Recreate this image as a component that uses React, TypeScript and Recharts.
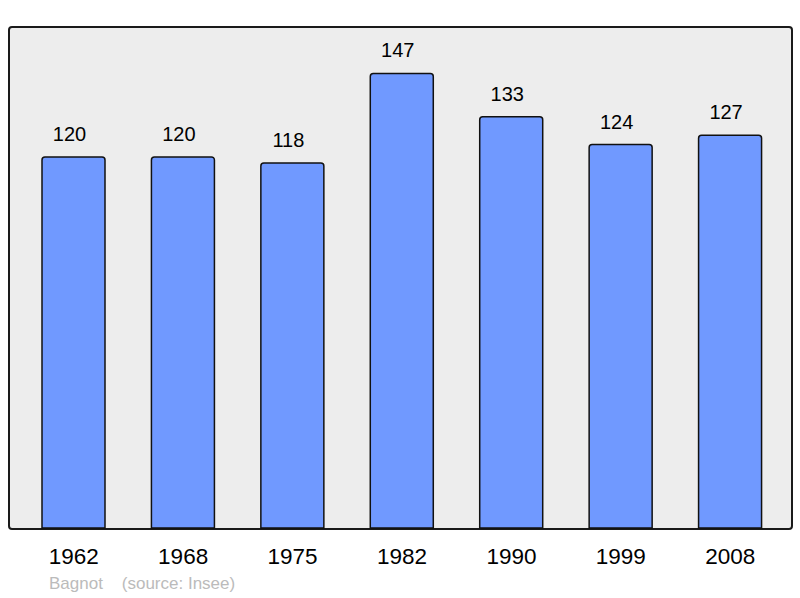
import { BarChart, Bar, XAxis, YAxis, LabelList } from "recharts";

const years = ["1962", "1968", "1975", "1982", "1990", "1999", "2008"];
const population = [120, 120, 118, 147, 133, 124, 127];

const rows = years.map((y, i) => ({ year: y, pop: population[i] }));

const font = '"Liberation Sans", Arial, sans-serif';

export default function App() {
  return (
    <div style={{ position: "absolute", left: 0, top: 0, width: 800, height: 598, background: "#fff", fontFamily: font }}>
      {/* plot frame behind the chart */}
      <div style={{
        position: "absolute", left: 8, top: 26, width: 781, height: 500,
        background: "#ededed", border: "2px solid #1a1a1a", borderRadius: 4,
      }} />
      <div style={{ position: "absolute", left: 0, top: 0 }}>
        <BarChart
          width={800}
          height={598}
          data={rows}
          margin={{ top: 27, right: 9, bottom: 40, left: 9 }}
          barSize={63}
        >
          <XAxis
            dataKey="year"
            height={30}
            axisLine={false}
            tickLine={false}
            tickMargin={14}
            padding={{ left: 10, right: 6 }}
            tick={{ fill: "#000", fontSize: 22.5, fontFamily: font }}
          />
          <YAxis hide domain={[0, 162]} />
          <Bar dataKey="pop" fill="#7099ff" stroke="#111" strokeWidth={1.5} radius={[3, 3, 0, 0]} isAnimationActive={false}>
            <LabelList dataKey="pop" position="top" offset={16} dx={-4} fill="#000" fontSize={20} fontFamily={font} />
          </Bar>
        </BarChart>
      </div>
      <div style={{ position: "absolute", left: 49, top: 574, fontSize: 17, color: "#bbb", whiteSpace: "pre" }}>
        Bagnot    (source: Insee)
      </div>
    </div>
  );
}
